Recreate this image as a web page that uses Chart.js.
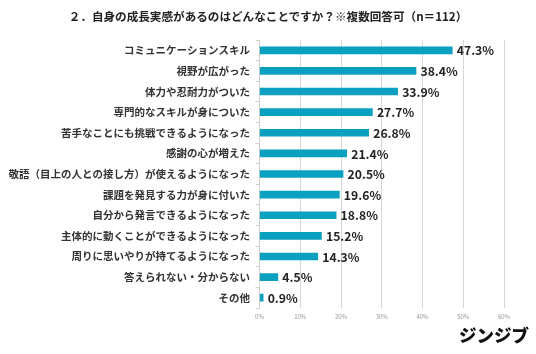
<!DOCTYPE html>
<html><head><meta charset="utf-8">
<script src="https://cdn.jsdelivr.net/npm/chart.js@4"></script>
<style>
html,body{margin:0;padding:0;background:#fff;}
#wrap{position:relative;width:536px;height:354px;}
#title{position:absolute;left:0;width:536px;top:7px;text-align:center;font:bold 11.6px "Noto Sans CJK JP";color:#222;line-height:18px;}
#logo{position:absolute;left:459px;top:323px;font:900 17.5px "Noto Sans CJK JP";color:#111;letter-spacing:0px;line-height:24px;}
canvas{position:absolute;left:0;top:0;}
</style></head>
<body><div id="wrap"><canvas id="c" width="536" height="354"></canvas>
<div id="title">２．自身の成長実感があるのはどんなことですか？※複数回答可（n＝112）</div>
<div id="logo">ジンジブ</div></div>
<script>
const categories = ["コミュニケーションスキル","視野が広がった","体力や忍耐力がついた","専門的なスキルが身についた","苦手なことにも挑戦できるようになった","感謝の心が増えた","敬語（目上の人との接し方）が使えるようになった","課題を発見する力が身に付いた","自分から発言できるようになった","主体的に動くことができるようになった","周りに思いやりが持てるようになった","答えられない・分からない","その他"];
const values = [47.3,38.4,33.9,27.7,26.8,21.4,20.5,19.6,18.8,15.2,14.3,4.5,0.9];
const xTicks = [0,10,20,30,40,50,60];

const labelPlugin = {
  id:'vals',
  afterDatasetsDraw(chart){
    const ctx = chart.ctx;
    const meta = chart.getDatasetMeta(0);
    ctx.save();
    ctx.font = 'bold 12.2px "Noto Sans CJK JP"';
    ctx.fillStyle = '#222';
    ctx.textBaseline = 'middle';
    ctx.textAlign = 'left';
    meta.data.forEach((bar,i)=>{
      ctx.fillText(values[i].toFixed(1)+'%', bar.x+4.5, bar.y+0.5);
    });
    ctx.restore();
  }
};

new Chart(document.getElementById('c'),{
  type:'bar',
  data:{labels:categories,datasets:[{data:values,backgroundColor:'#0aa0bf',barThickness:7,borderWidth:0}]},
  options:{
    indexAxis:'y',
    responsive:false,
    animation:false,
    layout:{padding:{top:40,right:32,bottom:0,left:0}},
    plugins:{legend:{display:false},tooltip:{enabled:false}},
    scales:{
      x:{
        min:0,max:60,
        afterBuildTicks(s){ s.ticks = xTicks.map(v=>({value:v})); },
        afterFit(s){ s.height = 46; },
        grid:{color:'#d6d6d6',lineWidth:1,tickLength:0,drawTicks:false},
        border:{display:false},
        ticks:{padding:5,color:'#999',font:{size:6,family:'"Noto Sans CJK JP"'},callback:v=>v+'%'}
      },
      y:{
        afterFit(s){ s.width = 259.5; },
        grid:{drawOnChartArea:false,drawTicks:true,tickLength:4,color:'#cfcfcf',offset:true},
        border:{display:true,color:'#cfcfcf'},
        ticks:{padding:5.5,color:'#333',font:{size:10.5,weight:'bold',family:'"Noto Sans CJK JP"'}}
      }
    }
  },
  plugins:[labelPlugin]
});
</script></body></html>
